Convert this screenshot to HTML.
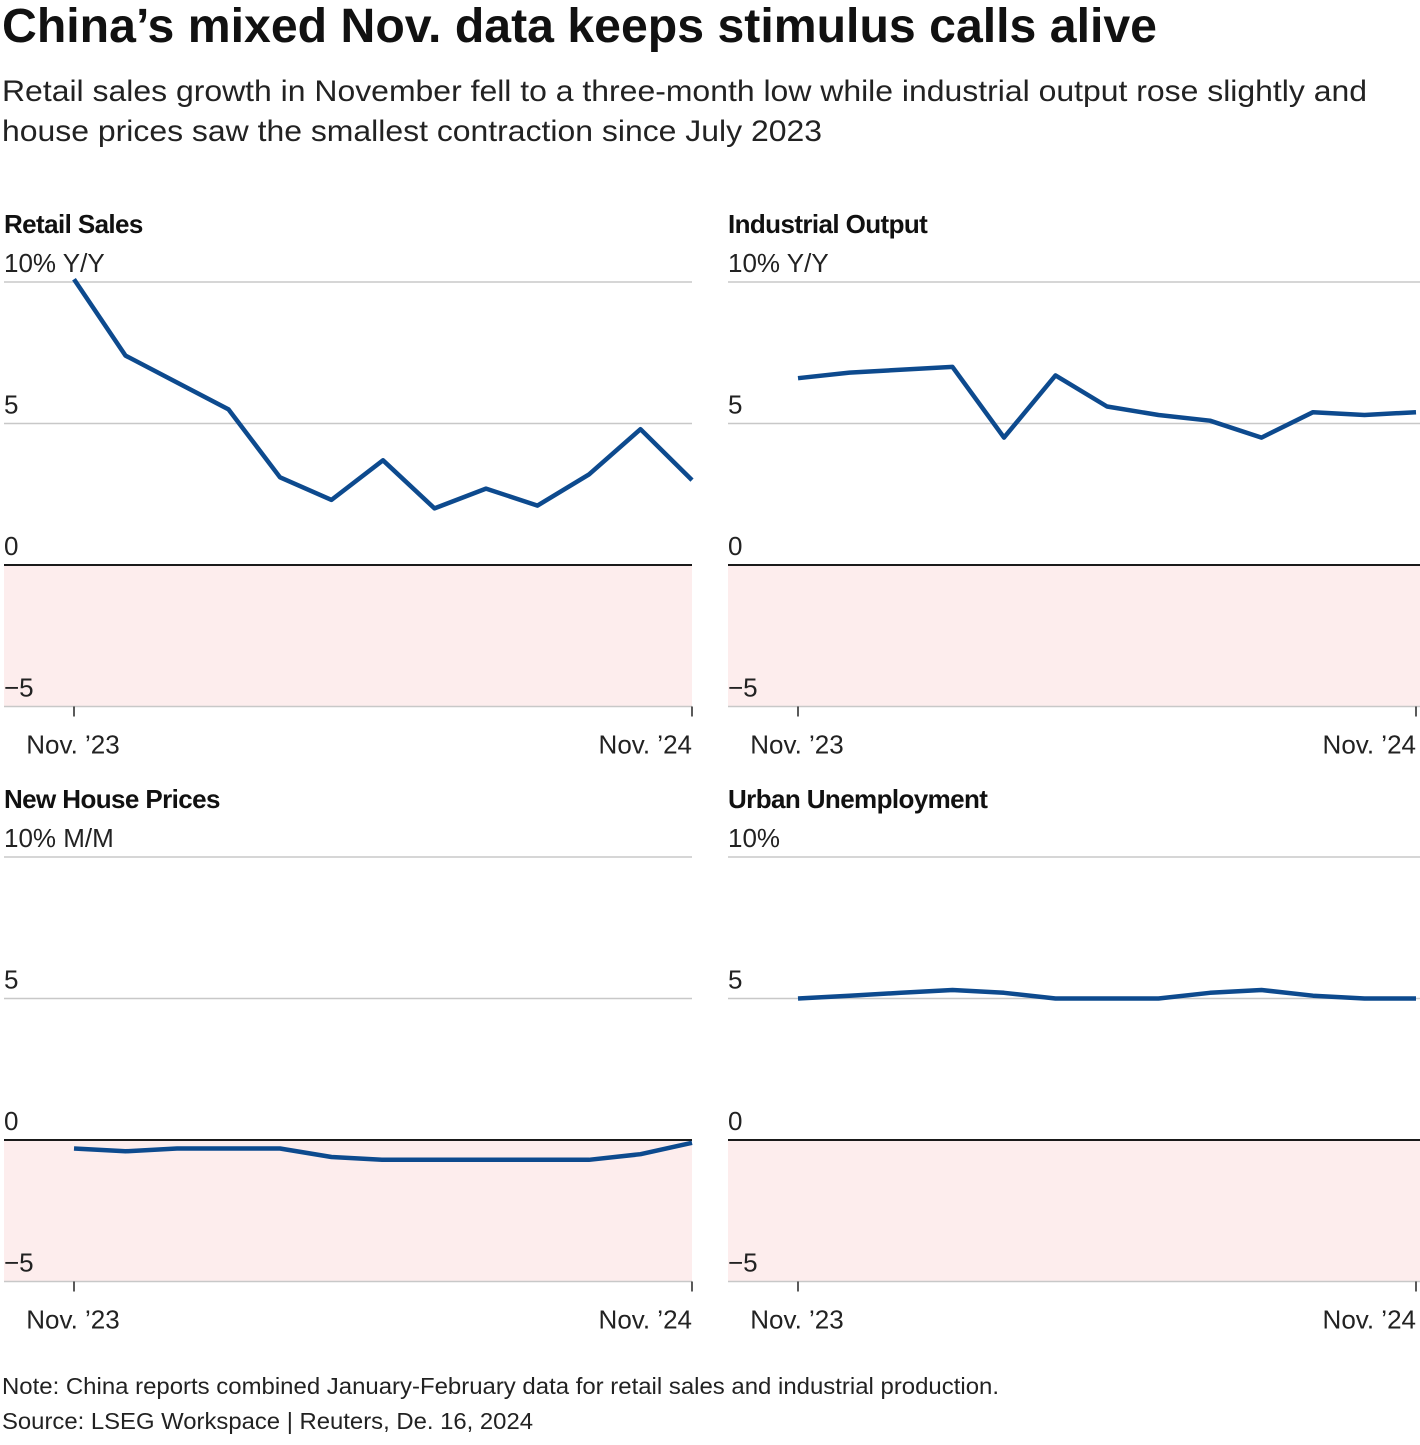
<!DOCTYPE html>
<html><head><meta charset="utf-8"><style>
body{margin:0;background:#fff;width:1420px;height:1440px;overflow:hidden;font-family:"Liberation Sans",sans-serif;color:#1a1a1a}
svg text{font-family:"Liberation Sans",sans-serif}
</style></head><body>
<svg id="chart" width="1420" height="1440" xmlns="http://www.w3.org/2000/svg">
<text x="2" y="42" font-size="48" font-weight="bold" textLength="1155" lengthAdjust="spacingAndGlyphs" fill="#111">China’s mixed Nov. data keeps stimulus calls alive</text>
<text x="2" y="101" font-size="30" textLength="1365" lengthAdjust="spacingAndGlyphs" fill="#222">Retail sales growth in November fell to a three-month low while industrial output rose slightly and</text>
<text x="2" y="141" font-size="30" textLength="820" lengthAdjust="spacingAndGlyphs" fill="#222">house prices saw the smallest contraction since July 2023</text>
<text x="2" y="1394" font-size="23" textLength="997" lengthAdjust="spacingAndGlyphs" fill="#222">Note: China reports combined January-February data for retail sales and industrial production.</text>
<text x="2" y="1429" font-size="23" textLength="531" lengthAdjust="spacingAndGlyphs" fill="#222">Source: LSEG Workspace | Reuters, De. 16, 2024</text>
<g id="panels"></g>
</svg>
<script>
const months = ["Nov23","Dec23","Jan24","Feb24","Mar24","Apr24","May24","Jun24","Jul24","Aug24","Sep24","Oct24","Nov24"];
const retailSales = [10.1,7.4,null,5.5,3.1,2.3,3.7,2.0,2.7,2.1,3.2,4.8,3.0];
const industrialOutput = [6.6,6.8,null,7.0,4.5,6.7,5.6,5.3,5.1,4.5,5.4,5.3,5.4];
const housePrices = [-0.3,-0.4,-0.3,-0.3,-0.3,-0.6,-0.7,-0.7,-0.7,-0.7,-0.7,-0.5,-0.1];
const unemployment = [5.0,5.1,5.2,5.3,5.2,5.0,5.0,5.0,5.2,5.3,5.1,5.0,5.0];
const yTicks = [10,5,0,-5];
const xTickLabels = ["Nov. ’23","Nov. ’24"];
const panelTitles = ["Retail Sales","Industrial Output","New House Prices","Urban Unemployment"];
const unitLabels = ["% Y/Y","% Y/Y","% M/M","%"];
const series = [retailSales,industrialOutput,housePrices,unemployment];

const NS="http://www.w3.org/2000/svg";
const root=document.getElementById('panels');
function mk(tag,attrs,parent){const e=document.createElementNS(NS,tag);for(const k in attrs)e.setAttribute(k,attrs[k]);(parent||root).appendChild(e);return e;}
const geo=[{l:4,r:692,xe:692,top:282,t:224},{l:728,r:1420,xe:1416,top:282,t:224},{l:4,r:692,xe:692,top:857,t:799},{l:728,r:1420,xe:1416,top:857,t:799}];
series.forEach((data,p)=>{
  const g=geo[p];
  const grp=mk('g',{});
  
  
  const ppu=28.3;
  const y=v=>g.top+(10-v)*ppu;
  const x0=g.l+70, x1=g.xe;
  const x=i=>x0+(x1-x0)*i/(months.length-1);
  const shade=mk('rect',{x:g.l,y:y(0),width:g.r-g.l,height:y(-5)-y(0),fill:'#fdeded'},grp);
  
  
  yTicks.forEach(t=>{
    const ln=mk('line',{x1:g.l,x2:g.r,y1:y(t),y2:y(t),stroke:t===0?'#1a1a1a':'#c8c8c8','stroke-width':t===0?2:1.5},grp);
    
    
    const tx=mk('text',{x:g.l,y:y(t)-10,'font-size':26,fill:'#222'},grp);
    tx.textContent=(t===10?'10'+unitLabels[p]:(t<0?'−'+Math.abs(t):String(t)));
    
    
  });
  const tt=mk('text',{x:g.l,y:g.t+9,'font-size':26,'font-weight':'bold','letter-spacing':'-0.6',fill:'#111'},grp);
  tt.textContent=panelTitles[p];
  
  
  [0,months.length-1].forEach((i,k)=>{
    const tk=mk('line',{x1:x(i),x2:x(i),y1:y(-5),y2:y(-5)+10,stroke:'#222','stroke-width':1.5},grp);
    
    
    const lb=mk('text',{x:k===0?x(i)-1:x(i),y:y(-5)+47,'font-size':26,fill:'#222','text-anchor':k===0?'middle':'end'},grp);
    lb.textContent=xTickLabels[k];
    
    
  });
  let d='';
  data.forEach((v,i)=>{if(v===null)return;d+=(d?'L':'M')+x(i).toFixed(1)+','+y(v).toFixed(1);});
  const path=mk('path',{d:d,fill:'none',stroke:'#0d4a8e','stroke-width':4.5,'stroke-linejoin':'round'},grp);
  
  
});
</script>
</body></html>
